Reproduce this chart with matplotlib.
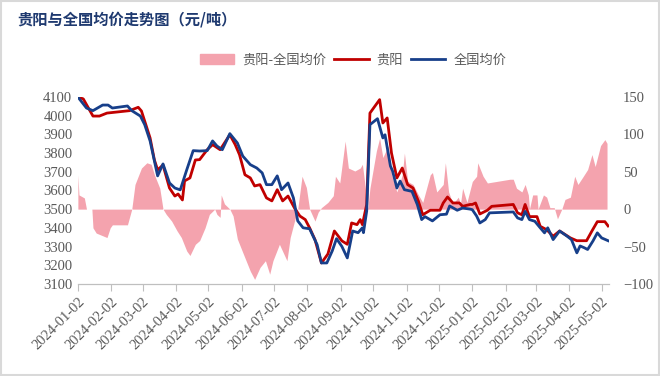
import matplotlib
matplotlib.use("Agg")
import matplotlib.pyplot as plt
import matplotlib.patches as mpatches
import matplotlib.lines as mlines
import pandas as pd

plt.rcParams['font.family'] = ['Noto Sans CJK SC', 'DejaVu Sans']

# ---- data ----
national_dates = ["2024-01-02","2024-01-10","2024-01-16","2024-01-25","2024-01-30","2024-02-03","2024-02-17","2024-02-21","2024-02-29","2024-03-04","2024-03-09","2024-03-13","2024-03-16","2024-03-21","2024-03-27","2024-04-01","2024-04-06","2024-04-12","2024-04-18","2024-04-24","2024-05-01","2024-05-06","2024-05-10","2024-05-15","2024-05-22","2024-05-29","2024-06-03","2024-06-10","2024-06-16","2024-06-21","2024-06-25","2024-06-30","2024-07-05","2024-07-09","2024-07-15","2024-07-20","2024-07-24","2024-07-29","2024-08-04","2024-08-11","2024-08-15","2024-08-20","2024-08-25","2024-08-29","2024-09-03","2024-09-08","2024-09-13","2024-09-18","2024-09-22","2024-09-23","2024-09-26","2024-09-29","2024-10-06","2024-10-11","2024-10-13","2024-10-18","2024-10-20","2024-10-24","2024-10-27","2024-10-31","2024-11-07","2024-11-12","2024-11-16","2024-11-19","2024-11-26","2024-12-03","2024-12-09","2024-12-12","2024-12-19","2024-12-24","2024-12-31","2025-01-02","2025-01-06","2025-01-09","2025-01-14","2025-01-18","2025-02-09","2025-02-13","2025-02-17","2025-02-20","2025-02-24","2025-03-01","2025-03-06","2025-03-10","2025-03-13","2025-03-18","2025-03-24","2025-03-31","2025-04-04","2025-04-09","2025-04-12","2025-04-16","2025-04-19","2025-04-24","2025-04-28","2025-05-02","2025-05-08"]
national_values = [4100,4041,4027,4057,4057,4041,4052,4027,3998,3952,3865,3758,3678,3742,3640,3613,3603,3710,3813,3811,3813,3865,3838,3818,3904,3854,3784,3738,3720,3694,3631,3631,3678,3604,3640,3560,3437,3400,3395,3310,3212,3212,3276,3342,3300,3239,3383,3374,3400,3374,3490,3952,3984,3881,3898,3731,3704,3613,3650,3604,3595,3524,3444,3460,3437,3470,3473,3517,3494,3506,3500,3497,3463,3426,3444,3480,3485,3453,3444,3488,3444,3435,3400,3373,3400,3337,3383,3355,3337,3266,3303,3293,3284,3330,3373,3346,3331]

guiyang_dates = ["2024-01-02","2024-01-07","2024-01-16","2024-01-22","2024-01-29","2024-02-19","2024-02-27","2024-03-01","2024-03-09","2024-03-13","2024-03-16","2024-03-21","2024-03-27","2024-04-01","2024-04-04","2024-04-08","2024-04-10","2024-04-15","2024-04-20","2024-04-24","2024-05-01","2024-05-06","2024-05-13","2024-05-22","2024-05-27","2024-05-31","2024-06-05","2024-06-10","2024-06-14","2024-06-19","2024-06-25","2024-06-30","2024-07-05","2024-07-10","2024-07-15","2024-07-21","2024-07-26","2024-07-31","2024-08-04","2024-08-09","2024-08-15","2024-08-21","2024-08-27","2024-09-03","2024-09-08","2024-09-12","2024-09-17","2024-09-20","2024-09-22","2024-09-26","2024-09-29","2024-10-08","2024-10-11","2024-10-15","2024-10-19","2024-10-24","2024-10-29","2024-11-03","2024-11-08","2024-11-13","2024-11-17","2024-11-24","2024-12-03","2024-12-06","2024-12-10","2024-12-15","2024-12-21","2024-12-24","2024-12-31","2025-01-02","2025-01-05","2025-01-09","2025-01-16","2025-01-20","2025-02-09","2025-02-13","2025-02-17","2025-02-20","2025-02-24","2025-03-03","2025-03-06","2025-03-12","2025-03-18","2025-03-24","2025-04-03","2025-04-09","2025-04-18","2025-04-23","2025-04-28","2025-05-05","2025-05-08"]
guiyang_values = [4100,4090,3998,3998,4014,4027,4045,4025,3881,3763,3710,3736,3613,3570,3581,3549,3651,3667,3763,3765,3818,3845,3818,3898,3845,3791,3684,3667,3624,3631,3560,3544,3604,3544,3570,3506,3463,3444,3400,3337,3212,3260,3383,3330,3312,3426,3417,3444,3417,3525,4014,4086,3961,3988,3800,3667,3720,3631,3613,3542,3470,3494,3494,3533,3565,3533,3533,3515,3525,3525,3533,3474,3494,3515,3525,3480,3470,3525,3460,3460,3408,3390,3355,3383,3346,3331,3331,3383,3433,3433,3410]

diff_dates = ["2024-01-02","2024-01-03","2024-01-08","2024-01-10","2024-01-15","2024-01-16","2024-01-19","2024-01-24","2024-01-29","2024-02-01","2024-02-03","2024-02-17","2024-02-21","2024-02-24","2024-03-01","2024-03-06","2024-03-10","2024-03-13","2024-03-18","2024-03-21","2024-03-24","2024-03-29","2024-04-03","2024-04-07","2024-04-12","2024-04-15","2024-04-20","2024-04-24","2024-04-29","2024-05-03","2024-05-08","2024-05-10","2024-05-13","2024-05-14","2024-05-17","2024-05-22","2024-05-25","2024-05-29","2024-06-03","2024-06-10","2024-06-14","2024-06-19","2024-06-24","2024-06-28","2024-07-01","2024-07-07","2024-07-14","2024-07-17","2024-07-21","2024-07-24","2024-07-28","2024-08-01","2024-08-04","2024-08-09","2024-08-12","2024-08-15","2024-08-21","2024-08-26","2024-08-28","2024-09-01","2024-09-06","2024-09-09","2024-09-15","2024-09-20","2024-09-22","2024-09-24","2024-09-27","2024-09-29","2024-10-05","2024-10-08","2024-10-11","2024-10-16","2024-10-19","2024-10-24","2024-10-29","2024-10-31","2024-11-03","2024-11-08","2024-11-13","2024-11-17","2024-11-24","2024-11-26","2024-11-30","2024-12-06","2024-12-08","2024-12-11","2024-12-15","2024-12-20","2024-12-22","2024-12-24","2024-12-28","2025-01-02","2025-01-06","2025-01-07","2025-01-12","2025-01-16","2025-02-06","2025-02-09","2025-02-12","2025-02-17","2025-02-20","2025-02-23","2025-02-24","2025-02-27","2025-03-03","2025-03-04","2025-03-09","2025-03-12","2025-03-15","2025-03-19","2025-03-22","2025-03-26","2025-03-29","2025-04-03","2025-04-07","2025-04-10","2025-04-15","2025-04-19","2025-04-23","2025-04-26","2025-05-01","2025-05-05","2025-05-07"]
diff_values = [46,19,15,0,0,-25,-32,-35,-38,-25,-21,-21,0,33,55,62,60,46,28,0,-7,-16,-29,-38,-56,-62,-47,-42,-25,-7,0,-7,-11,19,7,0,-9,-40,-58,-83,-94,-78,-69,-87,-69,-47,-69,-38,-16,0,44,29,0,-16,-4,2,9,18,44,35,91,55,51,55,60,37,0,28,78,95,69,85,46,23,46,75,37,33,19,9,46,49,23,33,62,23,7,16,7,28,9,37,44,62,44,35,40,40,28,23,33,19,0,19,19,0,19,16,2,2,-13,0,13,16,44,33,44,53,73,57,85,93,88]

tick_labels = ["2024-01-02","2024-02-02","2024-03-02","2024-04-02","2024-05-02","2024-06-02","2024-07-02","2024-08-02","2024-09-02","2024-10-02","2024-11-02","2024-12-02","2025-01-02","2025-02-02","2025-03-02","2025-04-02","2025-05-02"]

title = "贵阳与全国均价走势图（元/吨）"

# ---- figure ----
fig = plt.figure(figsize=(6.6, 3.76), dpi=100)
fig.patch.set_facecolor("white")
ax = fig.add_axes([0.118, 0.245, 0.805, 0.497])
ax2 = ax.twinx()

nd = pd.to_datetime(national_dates)
gd = pd.to_datetime(guiyang_dates)
dd = pd.to_datetime(diff_dates)

ax2.fill_between(dd, 0, diff_values, color="#F4A3AE", linewidth=0, zorder=1)
ax.plot(gd, guiyang_values, color="#C00000", linewidth=2.0, zorder=3)
ax.plot(nd, national_values, color="#173F8A", linewidth=2.0, zorder=4)

ax.set_zorder(ax2.get_zorder() + 1)
ax.patch.set_visible(False)

ax.set_ylim(3100, 4100)
ax2.set_ylim(-100, 150)
ax.set_yticks(range(3100, 4101, 100))
ax2.set_yticks(range(-100, 151, 50))
ax.set_xlim(pd.Timestamp("2024-01-02"), pd.Timestamp("2025-05-09"))

ticks = pd.to_datetime(tick_labels)
ax.set_xticks(ticks)
ax.set_xticklabels(tick_labels, rotation=45, ha="right", rotation_mode="anchor")

serif = ["Liberation Serif", "DejaVu Serif"]
grey = "#595959"
for a in (ax, ax2):
    for s in ("left", "right", "top"):
        a.spines[s].set_visible(False)
    a.spines["bottom"].set_color("#BFBFBF")
ax.tick_params(axis="x", direction="out", length=5, color="#BFBFBF", labelsize=10.5, labelcolor=grey, pad=3)
ax.tick_params(axis="y", length=0, labelsize=10.5, labelcolor=grey, pad=4)
ax2.tick_params(axis="y", length=0, labelsize=10.5, labelcolor=grey, pad=10)
for lab in ax.get_xticklabels() + ax.get_yticklabels() + ax2.get_yticklabels():
    lab.set_family(serif)

# title
fig.text(0.026, 0.948, title, fontsize=11, fontweight="bold", color="#1F3A70",
         ha="left", va="center")

# legend
h1 = mpatches.Patch(color="#F4A3AE", label="贵阳-全国均价")
h2 = mlines.Line2D([], [], color="#C00000", linewidth=2.0, label="贵阳")
h3 = mlines.Line2D([], [], color="#173F8A", linewidth=2.0, label="全国均价")
leg = fig.legend(handles=[h1, h2, h3], loc="center", bbox_to_anchor=(0.535, 0.84),
                 ncol=3, frameon=False, fontsize=9.5, handlelength=2.6,
                 handleheight=0.8, columnspacing=0.6, handletextpad=0.6)
for t in leg.get_texts():
    t.set_color(grey)

# light frame around figure
fig.patches.append(mpatches.Rectangle((0.002, 0.003), 0.996, 0.994, transform=fig.transFigure,
                                      fill=False, edgecolor="#D9D9D9", linewidth=1.5))

fig.savefig("out.png", dpi=100)
